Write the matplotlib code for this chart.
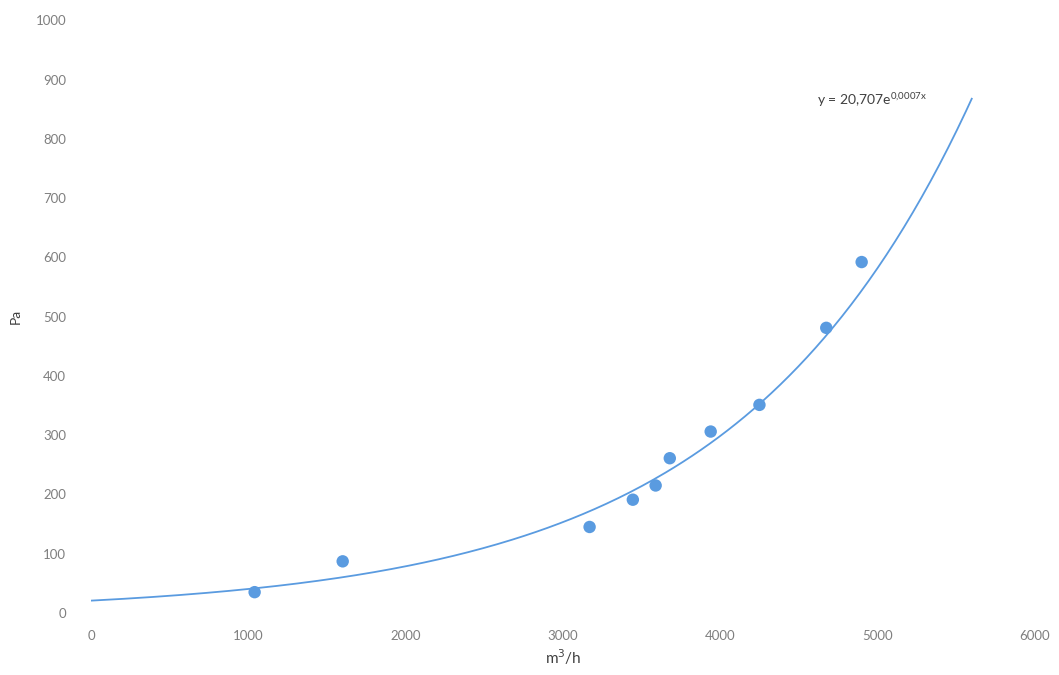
import numpy as np
import matplotlib
matplotlib.use("Agg")
import matplotlib.pyplot as plt

plt.rcParams['font.family'] = ['Lato', 'DejaVu Sans']

# Measured airflow (m³/h) and pressure drop (Pa)
flow = [1040, 1600, 3170, 3445, 3590, 3680, 3940, 4250, 4675, 4900]
pressure = [35, 87, 145, 191, 215, 261, 306, 351, 481, 592]

# Exponential trendline y = A * exp(B * x)
trend_a = 20.707
trend_b = 0.000667
trend_x_max = 5600

x_ticks = [0, 1000, 2000, 3000, 4000, 5000, 6000]
y_ticks = [0, 100, 200, 300, 400, 500, 600, 700, 800, 900, 1000]

blue = '#5a9be0'
tick_grey = '#7f7f7f'

fig = plt.figure(figsize=(10.59, 6.75), dpi=100)
ax = fig.add_axes([0.086, 0.092, 0.891, 0.878])

xs = np.linspace(0, trend_x_max, 300)
ax.plot(xs, trend_a * np.exp(trend_b * xs), color=blue, lw=1.3, zorder=2)
ax.scatter(flow, pressure, s=80, color=blue, edgecolors='none', zorder=3)

ax.text(4615, trend_a * np.exp(trend_b * trend_x_max) - 2,
        r'y = 20,707e$^{\mathregular{0{,}0007x}}$', fontsize=10,
        color='#404040', ha='left', va='center')

ax.set_xlim(0, 6000)
ax.set_ylim(0, 1000)
ax.set_xticks(x_ticks)
ax.set_yticks(y_ticks)
ax.tick_params(axis='both', length=0, labelsize=9.5, labelcolor=tick_grey)
ax.tick_params(axis='x', pad=12)
ax.tick_params(axis='y', pad=18)
for s in ax.spines.values():
    s.set_visible(False)

ax.set_xlabel('m$^3$/h', fontsize=11, color='#404040', labelpad=4)
ax.set_ylabel('Pa', fontsize=10, color='#404040', labelpad=10)

fig.savefig('out.png', dpi=100, facecolor='white')
